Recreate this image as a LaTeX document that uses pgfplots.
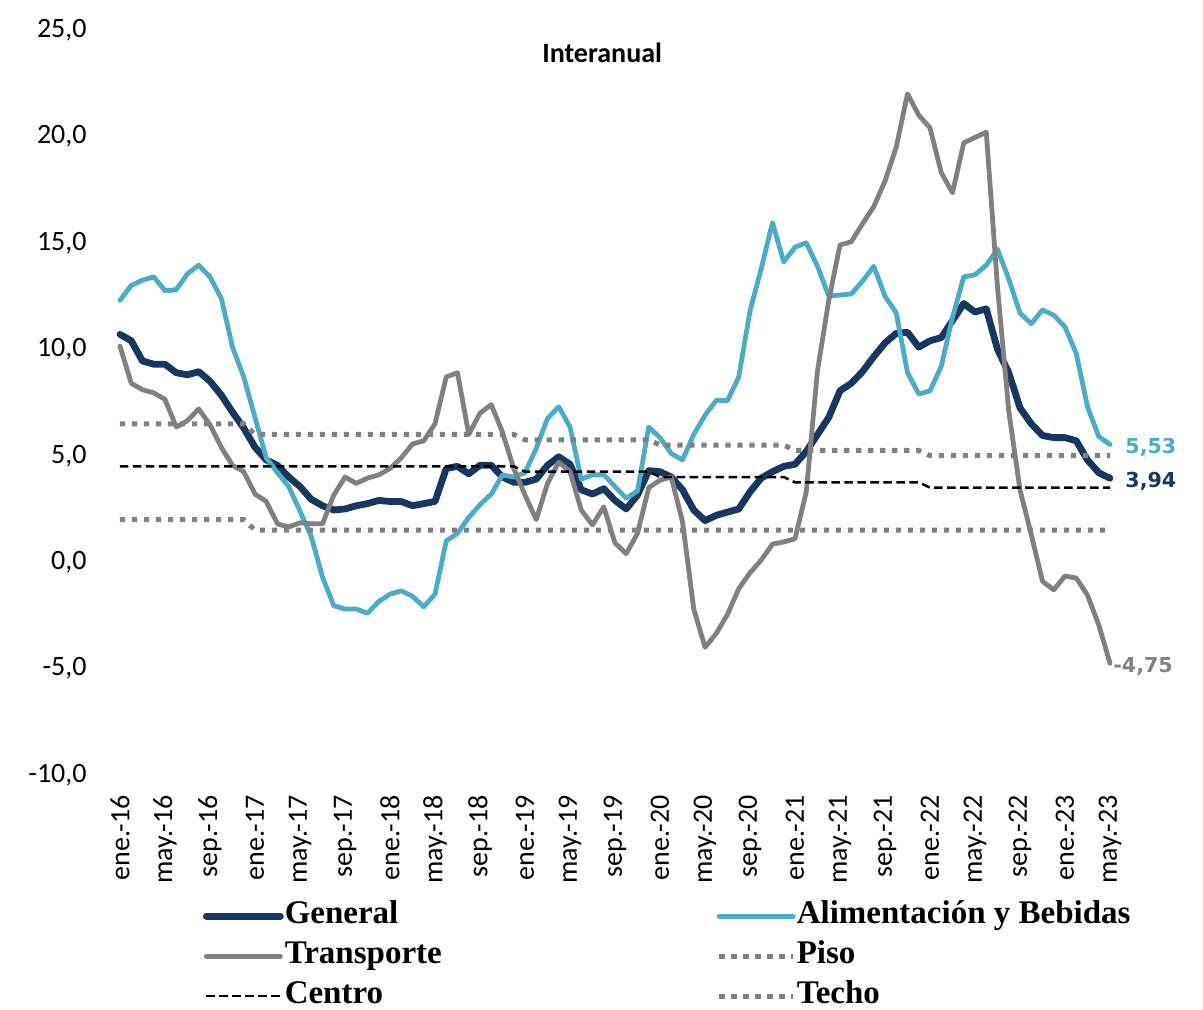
\documentclass[border=0pt]{standalone}
\usepackage{fontspec}
\setmainfont{Carlito}
\newfontfamily\legendfont{Liberation Serif}
\newfontfamily\labelfont{DejaVu Sans}
\usepackage{pgfplots}
\usepackage{pgfplotstable}
\pgfplotsset{compat=1.18}
\definecolor{cgen}{HTML}{17375E}
\definecolor{cali}{HTML}{4BACC6}
\definecolor{ctra}{HTML}{808080}
\pgfplotstableread{
x G A T P C Te
0 10.7 12.3 10.15 2.0 4.5 6.5
1 10.4 13.0 8.4 2.0 4.5 6.5
2 9.45 13.25 8.1 2.0 4.5 6.5
3 9.3 13.4 7.95 2.0 4.5 6.5
4 9.3 12.75 7.65 2.0 4.5 6.5
5 8.9 12.8 6.35 2.0 4.5 6.5
6 8.8 13.55 6.65 2.0 4.5 6.5
7 8.95 13.95 7.2 2.0 4.5 6.5
8 8.5 13.4 6.45 2.0 4.5 6.5
9 7.85 12.4 5.4 2.0 4.5 6.5
10 7.05 10.1 4.55 2.0 4.5 6.5
11 6.3 8.7 4.25 2.0 4.5 6.5
12 5.4 6.8 3.2 1.5 4.5 6.0
13 4.8 4.9 2.85 1.5 4.5 6.0
14 4.55 4.2 1.8 1.5 4.5 6.0
15 4.0 3.55 1.65 1.5 4.5 6.0
16 3.55 2.4 1.85 1.5 4.5 6.0
17 2.95 1.2 1.8 1.5 4.5 6.0
18 2.65 -0.7 1.8 1.5 4.5 6.0
19 2.45 -2.05 3.15 1.5 4.5 6.0
20 2.5 -2.2 4.0 1.5 4.5 6.0
21 2.65 -2.2 3.7 1.5 4.5 6.0
22 2.75 -2.4 3.95 1.5 4.5 6.0
23 2.9 -1.85 4.1 1.5 4.5 6.0
24 2.85 -1.5 4.4 1.5 4.5 6.0
25 2.85 -1.35 4.9 1.5 4.5 6.0
26 2.65 -1.6 5.55 1.5 4.5 6.0
27 2.75 -2.1 5.7 1.5 4.5 6.0
28 2.85 -1.5 6.5 1.5 4.5 6.0
29 4.4 1.0 8.7 1.5 4.5 6.0
30 4.5 1.35 8.9 1.5 4.5 6.0
31 4.15 2.1 6.0 1.5 4.5 6.0
32 4.55 2.7 7.0 1.5 4.5 6.0
33 4.55 3.2 7.4 1.5 4.5 6.0
34 4.0 4.1 6.1 1.5 4.5 6.0
35 3.75 4.0 4.4 1.5 4.5 6.0
36 3.75 4.2 3.15 1.5 4.25 5.75
37 3.9 5.35 2.0 1.5 4.25 5.75
38 4.55 6.75 3.7 1.5 4.25 5.75
39 4.95 7.3 4.7 1.5 4.25 5.75
40 4.6 6.35 4.25 1.5 4.25 5.75
41 3.4 3.9 2.45 1.5 4.25 5.75
42 3.2 4.1 1.75 1.5 4.25 5.75
43 3.45 4.1 2.6 1.5 4.25 5.75
44 2.9 3.55 0.9 1.5 4.25 5.75
45 2.5 3.0 0.4 1.5 4.25 5.75
46 3.15 3.35 1.35 1.5 4.25 5.75
47 4.3 6.35 3.5 1.5 4.25 5.75
48 4.25 5.85 3.85 1.5 4.0 5.5
49 4.0 5.1 4.0 1.5 4.0 5.5
50 3.4 4.8 1.9 1.5 4.0 5.5
51 2.45 6.0 -2.2 1.5 4.0 5.5
52 1.95 6.9 -4.0 1.5 4.0 5.5
53 2.2 7.6 -3.35 1.5 4.0 5.5
54 2.35 7.6 -2.45 1.5 4.0 5.5
55 2.5 8.7 -1.25 1.5 4.0 5.5
56 3.3 11.8 -0.5 1.5 4.0 5.5
57 3.95 13.8 0.1 1.5 4.0 5.5
58 4.25 15.95 0.85 1.5 4.0 5.5
59 4.5 14.1 0.95 1.5 4.0 5.5
60 4.6 14.8 1.1 1.5 3.75 5.25
61 5.2 15.0 3.3 1.5 3.75 5.25
62 6.0 13.9 9.0 1.5 3.75 5.25
63 6.8 12.5 12.3 1.5 3.75 5.25
64 8.05 12.55 14.9 1.5 3.75 5.25
65 8.4 12.6 15.05 1.5 3.75 5.25
66 8.95 13.2 15.9 1.5 3.75 5.25
67 9.65 13.9 16.7 1.5 3.75 5.25
68 10.3 12.5 17.9 1.5 3.75 5.25
69 10.75 11.7 19.5 1.5 3.75 5.25
70 10.8 8.9 22.0 1.5 3.75 5.25
71 10.1 7.9 21.0 1.5 3.75 5.25
72 10.4 8.05 20.4 1.5 3.5 5.0
73 10.55 9.2 18.3 1.5 3.5 5.0
74 11.35 11.5 17.35 1.5 3.5 5.0
75 12.15 13.4 19.7 1.5 3.5 5.0
76 11.75 13.5 19.95 1.5 3.5 5.0
77 11.9 13.95 20.2 1.5 3.5 5.0
78 10.0 14.7 12.9 1.5 3.5 5.0
79 8.9 13.3 7.1 1.5 3.5 5.0
80 7.25 11.7 3.4 1.5 3.5 5.0
81 6.5 11.2 1.3 1.5 3.5 5.0
82 5.95 11.85 -0.9 1.5 3.5 5.0
83 5.85 11.6 -1.3 1.5 3.5 5.0
84 5.85 11.05 -0.65 1.5 3.5 5.0
85 5.7 9.8 -0.75 1.5 3.5 5.0
86 4.8 7.3 -1.55 1.5 3.5 5.0
87 4.2 5.9 -2.95 1.5 3.5 5.0
88 3.94 5.53 -4.75 1.5 3.5 5.0
}\datatable
\begin{document}
\begin{tikzpicture}
\useasboundingbox (-60pt,-117pt) rectangle (541.5pt,387.5pt);
\begin{axis}[
  at={(0,0)}, anchor=south west,
  scale only axis, width=495pt, height=372.5pt,
  xmin=0, xmax=88, ymin=-10, ymax=25,
  clip=false,
  axis line style={draw=none},
  major tick length=0pt,
  ytick={-10,-5,...,25},
  xtick={0,4,...,88},
  xticklabels={ene.-16,may.-16,sep.-16,ene.-17,may.-17,sep.-17,ene.-18,may.-18,sep.-18,ene.-19,may.-19,sep.-19,ene.-20,may.-20,sep.-20,ene.-21,may.-21,sep.-21,ene.-22,may.-22,sep.-22,ene.-23,may.-23},
  tick label style={font=\fontsize{14}{16}\selectfont, inner sep=0pt},
  xticklabel style={rotate=90, anchor=east},
  yticklabel style={anchor=east},
  xticklabel shift=10pt,
  yticklabel shift=16.5pt,
  /pgf/number format/.cd, use comma, fixed, fixed zerofill, precision=1, assume math mode=true,
  /pgfplots/.cd,
  legend columns=2,
  legend cell align=left,
  legend style={draw=none, fill=none, inner sep=0pt, outer sep=0pt,
    at={(axis description cs:0.0838,-0.166)}, anchor=north west,
    font=\legendfont\bfseries\fontsize{16.5}{19}\selectfont,
    nodes={inner sep=1.5pt, text height=11pt, text depth=3.5pt},
    row sep=2.5pt,
    /tikz/every odd column/.append style={column sep=-1pt},
    /tikz/every even column/.append style={column sep=136pt}},
  legend image code/.code={\draw[#1] (0pt,0pt) -- (37pt,0pt);},
]
\addplot[cgen, line width=3.4pt, line cap=round, line join=round] table[x=x,y=G]{\datatable};
\addlegendentry{General}
\addplot[cali, line width=2.4pt, line cap=round, line join=round] table[x=x,y=A]{\datatable};
\addlegendentry{Alimentación y Bebidas}
\addplot[ctra, line width=2.4pt, line cap=round, line join=round] table[x=x,y=T]{\datatable};
\addlegendentry{Transporte}
\addplot[ctra, line width=2.5pt, dash pattern=on 2.6pt off 3.4pt] table[x=x,y=P]{\datatable};
\addlegendentry{Piso}
\addplot[black, line width=1.25pt, dash pattern=on 4.2pt off 2.3pt] table[x=x,y=C]{\datatable};
\addlegendentry{Centro}
\addplot[ctra, line width=2.5pt, dash pattern=on 2.6pt off 3.4pt] table[x=x,y=Te]{\datatable};
\addlegendentry{Techo}
\node[font=\bfseries\fontsize{14}{16}\selectfont] at (rel axis cs:0.487,0.970) {Interanual};
\node[anchor=west, inner sep=0pt, xshift=7.5pt, yshift=-1.5pt, text=cali, font=\labelfont\bfseries\fontsize{10.3}{12}\selectfont] at (axis cs:88,5.53) {5,53};
\node[anchor=west, inner sep=0pt, xshift=7.5pt, yshift=-1.5pt, text=cgen, font=\labelfont\bfseries\fontsize{10.3}{12}\selectfont] at (axis cs:88,3.94) {3,94};
\node[anchor=west, inner sep=0pt, xshift=1.5pt, yshift=-1.5pt, text=ctra, font=\labelfont\bfseries\fontsize{10.3}{12}\selectfont] at (axis cs:88,-4.75) {-4,75};
\end{axis}
\end{tikzpicture}
\end{document}
